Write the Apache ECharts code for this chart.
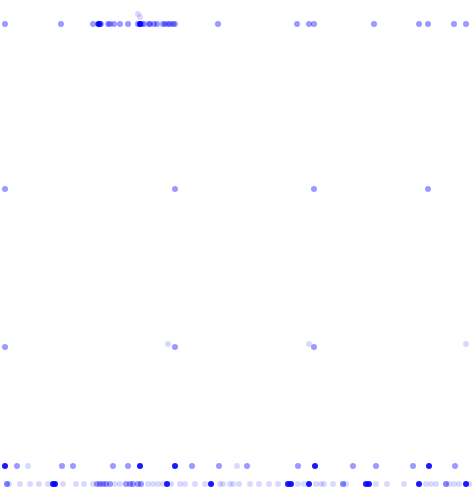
<!DOCTYPE html>
<html>
<head>
<meta charset="utf-8">
<script src="https://cdn.jsdelivr.net/npm/echarts@6/dist/echarts.min.js"></script>
<style>html,body{margin:0;padding:0;background:#fff}#c{width:475px;height:490px}</style>
</head>
<body>
<div id="c"></div>
<script>
// Row levels (y values)
const rowLevels = { r1: 24, r2: 189, r3: 347, r3b: 344, r4: 466, r5: 484 };

// Row 1 (top)
const row1Mid = [5, 61, 93, 98, 99, 100, 101, 108, 110, 114, 120, 128, 138, 140, 142, 144, 149, 150, 154, 157, 163, 165, 168, 170, 173, 175, 218, 297, 309, 314, 374, 419, 428, 454, 466];
const row1Dark = [99, 140];
const row1Light = [[138, 14], [140, 17]];
// Row 2
const row2Mid = [5, 175, 314, 428];
// Row 3
const row3Mid = [5, 175, 314];
const row3Light = [168, 309, 466];
// Row 4
const row4Mid = [17, 62, 73, 113, 128, 192, 219, 247, 298, 353, 376, 413, 455];
const row4Light = [28, 237];
const row4Dark = [5, 140, 175, 315, 429];
// Row 5 (bottom)
const row5Light = [7, 9, 20, 30, 39, 48, 63, 76, 84, 93, 115, 120, 148, 153, 158, 163, 171, 180, 185, 195, 205, 220, 223, 230, 233, 239, 250, 259, 269, 278, 298, 304, 316, 321, 324, 333, 343, 346, 376, 387, 404, 426, 431, 436, 446, 449, 454, 459, 469];
const row5Mid = [7, 97, 100, 103, 106, 110, 126, 130, 133, 138, 141, 343, 446];
const row5Dark = [53, 55, 167, 211, 288, 291, 309, 366, 369, 419, 466];

function pts(xs, y) { return xs.map(x => [x, y]); }

const lightData = [].concat(
  row1Light,
  pts(row3Light, rowLevels.r3b),
  pts(row4Light, rowLevels.r4),
  pts(row5Light, rowLevels.r5)
);
const midData = [].concat(
  pts(row1Mid, rowLevels.r1),
  pts(row2Mid, rowLevels.r2),
  pts(row3Mid, rowLevels.r3),
  pts(row4Mid, rowLevels.r4),
  pts(row5Mid, rowLevels.r5)
);
const darkData = [].concat(
  pts(row1Dark, rowLevels.r1),
  pts(row4Dark, rowLevels.r4),
  pts(row5Dark, rowLevels.r5)
);

const chart = echarts.init(document.getElementById('c'));
chart.setOption({
  animation: false,
  grid: { left: 5, right: 0, top: 0, bottom: 0 },
  xAxis: { type: 'value', min: 5, max: 475, show: false },
  yAxis: { type: 'value', min: 0, max: 490, inverse: true, show: false },
  series: [
    { type: 'scatter', symbolSize: 6, data: lightData, itemStyle: { color: '#0000ff', opacity: 0.15 } },
    { type: 'scatter', symbolSize: 6, data: midData, itemStyle: { color: '#0000ff', opacity: 0.4 } },
    { type: 'scatter', symbolSize: 6, data: darkData, itemStyle: { color: '#0000ff', opacity: 0.9 } }
  ]
});
</script>
</body>
</html>
